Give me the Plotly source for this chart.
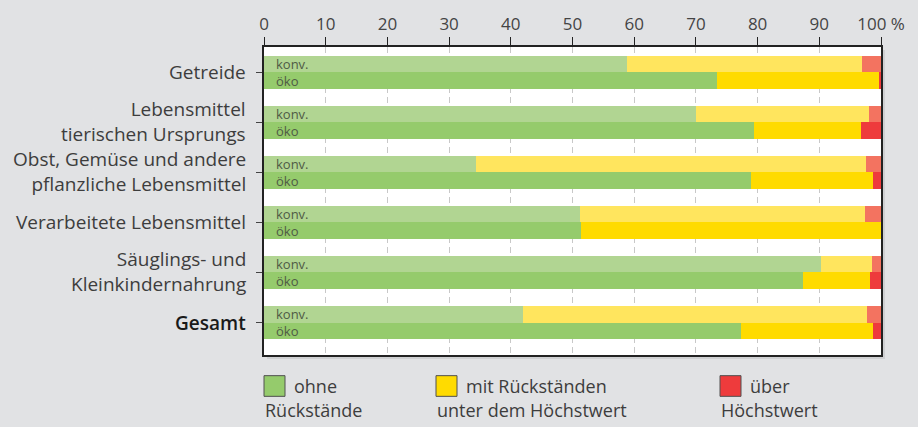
import plotly.graph_objects as go

# ---------------- data ----------------
categories = [
    "Getreide",
    "Lebensmittel<br>tierischen Ursprungs",
    "Obst, Gemüse und andere<br>pflanzliche Lebensmittel",
    "Verarbeitete Lebensmittel",
    "Säuglings- und<br>Kleinkindernahrung",
    "Gesamt",
]
konv_ohne = [58.8, 70.0, 34.4, 51.2, 90.3, 42.0]
konv_mit = [38.2, 28.1, 63.1, 46.2, 8.2, 55.7]
konv_ueber = [3.0, 1.9, 2.5, 2.6, 1.5, 2.3]
oeko_ohne = [73.4, 79.4, 78.9, 51.4, 87.4, 77.3]
oeko_mit = [26.3, 17.4, 19.8, 48.6, 10.8, 21.4]
oeko_ueber = [0.3, 3.2, 1.3, 0.0, 1.8, 1.3]

x_tickvals = [0, 10, 20, 30, 40, 50, 60, 70, 80, 90, 100]
x_ticktext = ["0", "10", "20", "30", "40", "50", "60", "70", "80", "90", "100 %"]

legend_labels = [("ohne", "Rückstände"), ("mit Rückständen", "unter dem Höchstwert"), ("über", "Höchstwert")]

# ---------------- style ----------------
FONT = "Open Sans"
C_KONV = ["#b1d592", "#ffe55e", "#f37360"]
C_OEKO = ["#95cb6c", "#ffdb00", "#ee3b3c"]
BAR_W = 0.334
n = len(categories)
pos = list(range(n))
y_konv = [p - BAR_W / 2 for p in pos]
y_oeko = [p + BAR_W / 2 for p in pos]

fig = go.Figure()
for vals, col in zip([konv_ohne, konv_mit, konv_ueber], C_KONV):
    fig.add_trace(go.Bar(x=vals, y=y_konv, orientation="h", width=BAR_W,
                         marker=dict(color=col, line=dict(width=0)), showlegend=False,
                         hoverinfo="x"))
for vals, col in zip([oeko_ohne, oeko_mit, oeko_ueber], C_OEKO):
    fig.add_trace(go.Bar(x=vals, y=y_oeko, orientation="h", width=BAR_W,
                         marker=dict(color=col, line=dict(width=0)), showlegend=False,
                         hoverinfo="x"))

annotations = []
# konv./öko labels inside bars
for p in pos:
    annotations.append(dict(x=0, y=p - BAR_W / 2, xref="x", yref="y", text="konv.",
                            showarrow=False, xanchor="left", yanchor="middle", xshift=10,
                            font=dict(family=FONT, size=13, color="#4f5a45")))
    annotations.append(dict(x=0, y=p + BAR_W / 2, xref="x", yref="y", text="öko",
                            showarrow=False, xanchor="left", yanchor="middle", xshift=10,
                            font=dict(family=FONT, size=13, color="#4f5a45")))

# category labels
for p, cat in zip(pos, categories):
    is_total = cat == "Gesamt"
    annotations.append(dict(x=0, y=p, xref="paper", yref="y", text=cat,
                            showarrow=False, xanchor="right", yanchor="middle", align="right",
                            xshift=-16, yshift=0 if "<br>" not in cat else 1,
                            font=dict(family=FONT, size=19,
                                      color="#1a1a1a" if is_total else "#3d3d3d",
                                      weight=600 if is_total else 400)))

# legend
PW, PH = 617.0, 313.0
leg_x = [264, 436, 720]
shapes = []
for (l1, l2), lx, col in zip(legend_labels, leg_x, C_OEKO):
    x0 = (lx - 264) / PW
    shapes.append(dict(type="rect", xref="paper", yref="paper",
                       x0=x0, x1=x0 + 21 / PW, y0=(355 - 397) / PH, y1=(355 - 376) / PH,
                       fillcolor=col, line=dict(color="#505050", width=1)))
    annotations.append(dict(x=x0 + 28 / PW, y=(355 - 387) / PH, xref="paper", yref="paper",
                            text=l1, showarrow=False, xanchor="left", yanchor="middle",
                            font=dict(family=FONT, size=18, color="#3d3d3d")))
    annotations.append(dict(x=x0 - 1 / PW, y=(355 - 411) / PH, xref="paper", yref="paper",
                            text=l2, showarrow=False, xanchor="left", yanchor="middle",
                            font=dict(family=FONT, size=18, color="#3d3d3d")))

# soft shadow right / bottom of plot frame
shapes.append(dict(type="rect", xref="paper", yref="paper", x0=1 + 1 / PW, x1=1 + 4 / PW,
                   y0=-4 / PH, y1=1 - 3 / PH, fillcolor="#cfd0d2", line=dict(width=0), layer="below"))
shapes.append(dict(type="rect", xref="paper", yref="paper", x0=3 / PW, x1=1 + 4 / PW,
                   y0=-4 / PH, y1=-1 / PH, fillcolor="#cfd0d2", line=dict(width=0), layer="below"))

fig.update_layout(
    width=918, height=427,
    margin=dict(l=264, r=37, t=42, b=72),
    paper_bgcolor="#e1e2e4", plot_bgcolor="#ffffff",
    barmode="stack", bargap=0,
    font=dict(family=FONT, color="#444444"),
    annotations=annotations, shapes=shapes,
    showlegend=False,
    xaxis=dict(side="top", range=[0, 100], tickvals=x_tickvals, ticktext=x_ticktext,
               ticks="outside", ticklen=8, tickcolor="#222222", tickwidth=1,
               showline=True, linecolor="#222222", linewidth=1.5, mirror=True,
               showgrid=True, gridcolor="#c8c8c8", gridwidth=1, griddash="6px,4px",
               zeroline=False, fixedrange=True,
               tickfont=dict(family=FONT, size=17, color="#444444")),
    yaxis=dict(range=[5.649, -0.505], tickvals=pos, showticklabels=False,
               ticks="outside", ticklen=6, tickcolor="#444444",
               showline=True, linecolor="#222222", linewidth=1.5, mirror=True,
               showgrid=False, zeroline=False, fixedrange=True),
)

fig.write_html("out.html", config={"displayModeBar": False},
               post_script="document.body.style.margin='0';document.body.style.padding='0';"
                           "document.body.style.overflow='hidden';"
                           "document.body.style.background='#e1e2e4';")
